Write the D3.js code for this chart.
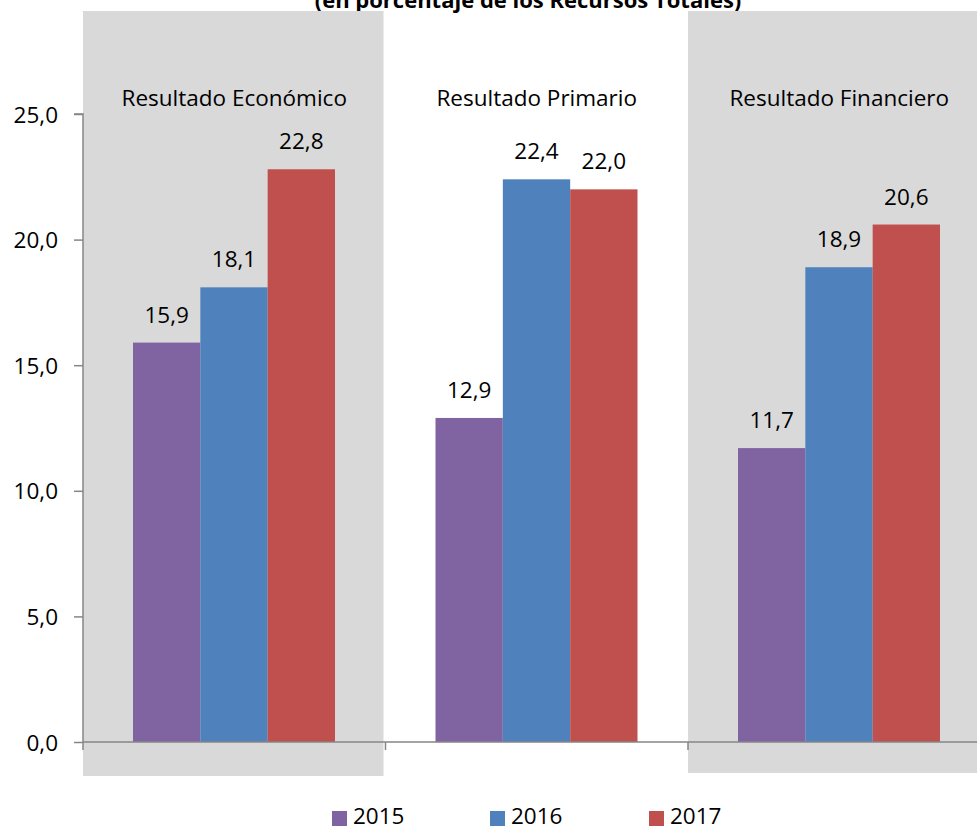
<!DOCTYPE html>
<html>
<head>
<meta charset="utf-8">
<script src="https://cdn.jsdelivr.net/npm/d3@7"></script>
<style>
  body { margin: 0; background: #fff; }
  text { font-family: "Open Sans", sans-serif; fill: #000; }
</style>
</head>
<body>
<svg id="chart" width="977" height="826"></svg>
<script>
// Data
const categories = ["Resultado Económico", "Resultado Primario", "Resultado Financiero"];
const shaded = [true, false, true];
const years = ["2015", "2016", "2017"];
const values2015 = [15.9, 12.9, 11.7];
const values2016 = [18.1, 22.4, 18.9];
const values2017 = [22.8, 22.0, 20.6];
const yTicks = [0, 5, 10, 15, 20, 25];
const colors = ["#8064A2", "#4F81BD", "#C0504D"];

const seriesValues = [values2015, values2016, values2017];
const fmt = v => d3.format(".1f")(v).replace(".", ",");
const fontSize = "22.5px";

const svg = d3.select("#chart");

// Scales
const xScale = d3.scaleBand().domain(categories).range([83, 83 + 3 * 302.5]);
const xInner = d3.scaleBand().domain(years).range([50, 252]);
const yScale = d3.scaleLinear().domain([0, 25]).range([742, 114]);
const colorScale = d3.scaleOrdinal().domain(years).range(colors);

// Title (partly cut off at top, as in the source)
svg.append("text")
  .attr("x", 528)
  .attr("y", 8)
  .attr("text-anchor", "middle")
  .style("font-weight", "bold")
  .style("font-size", "22px")
  .text("(en porcentaje de los Recursos Totales)");

// Grey panels behind the shaded categories
svg.selectAll(".panel")
  .data(categories.filter((c, i) => shaded[i]))
  .enter()
  .append("rect")
  .attr("class", "panel")
  .attr("x", d => xScale(d))
  .attr("y", 11)
  .attr("width", xScale.bandwidth() - 2)
  .attr("height", (d, i) => i === 0 ? 765 : 762)
  .attr("fill", "#D9D9D9");

// Category labels
svg.selectAll(".catLabel")
  .data(categories)
  .enter()
  .append("text")
  .attr("class", "catLabel")
  .attr("x", d => xScale(d) + xScale.bandwidth() / 2)
  .attr("y", 106)
  .attr("text-anchor", "middle")
  .style("font-size", fontSize)
  .text(d => d);

// Bars
const rows = [];
categories.forEach((c, ci) => {
  years.forEach((y, yi) => {
    rows.push({ cat: c, year: y, value: seriesValues[yi][ci] });
  });
});

svg.selectAll(".bar")
  .data(rows)
  .enter()
  .append("rect")
  .attr("class", "bar")
  .attr("x", d => xScale(d.cat) + xInner(d.year))
  .attr("y", d => yScale(d.value))
  .attr("width", xInner.bandwidth())
  .attr("height", d => yScale(0) - yScale(d.value))
  .attr("fill", d => colorScale(d.year));

svg.selectAll(".valLabel")
  .data(rows)
  .enter()
  .append("text")
  .attr("class", "valLabel")
  .attr("x", d => xScale(d.cat) + xInner(d.year) + xInner.bandwidth() / 2)
  .attr("y", d => yScale(d.value) - 20)
  .attr("text-anchor", "middle")
  .style("font-size", fontSize)
  .text(d => fmt(d.value));

// Y axis
const yAxis = d3.axisLeft(yScale)
  .tickValues(yTicks)
  .tickSize(9)
  .tickPadding(16)
  .tickFormat(fmt);

const gy = svg.append("g")
  .attr("transform", "translate(83,0)")
  .call(yAxis);
gy.select(".domain").attr("stroke", "#868686").attr("stroke-width", 1.5).attr("d", "M-9,114H0V742");
gy.selectAll(".tick line").attr("stroke", "#868686").attr("stroke-width", 1.5);
gy.selectAll(".tick text")
  .style("font-size", fontSize)
  .style("font-family", "'Open Sans', sans-serif")
  .attr("dy", "0.36em");

// X axis baseline with category boundary ticks
svg.append("line")
  .attr("x1", 83).attr("x2", 977)
  .attr("y1", yScale(0)).attr("y2", yScale(0))
  .attr("stroke", "#868686")
  .attr("stroke-width", 1.5);

svg.selectAll(".xTick")
  .data(categories)
  .enter()
  .append("line")
  .attr("class", "xTick")
  .attr("x1", d => xScale(d)).attr("x2", d => xScale(d))
  .attr("y1", yScale(0)).attr("y2", yScale(0) + 8)
  .attr("stroke", "#868686")
  .attr("stroke-width", 1.5);

// Legend (sits at the bottom edge, partly cut like the source)
const legendX = [332, 490, 649];
const legend = svg.selectAll(".legend")
  .data(years)
  .enter()
  .append("g")
  .attr("class", "legend")
  .attr("transform", (d, i) => "translate(" + legendX[i] + ",811)");

legend.append("rect")
  .attr("width", 15)
  .attr("height", 15)
  .attr("fill", d => colorScale(d));

legend.append("text")
  .attr("x", 21)
  .attr("y", 13)
  .style("font-size", fontSize)
  .text(d => d);
</script>
</body>
</html>
